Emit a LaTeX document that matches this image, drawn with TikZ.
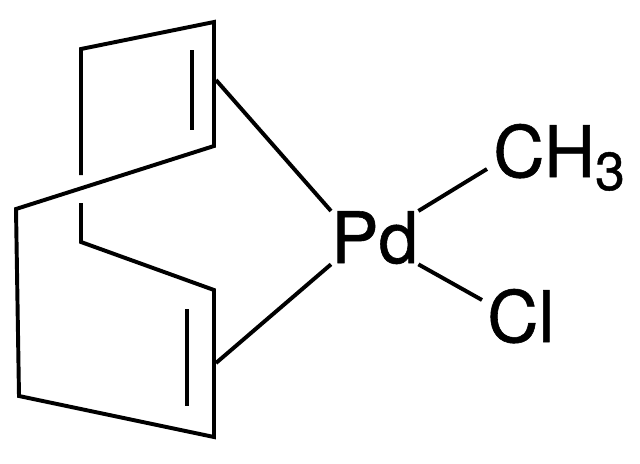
\documentclass[tikz,border=0pt]{standalone}
\usepackage{fontspec}
\setmainfont{TeX Gyre Heros}[RawFeature={embolden=0.8}]
\tikzset{
bond/.style={black, line width=2.8pt},
atom/.style={inner sep=0pt, anchor=base west, font=\fontsize{50.5}{51}\selectfont}
}
\newcommand{\subthree}{\raisebox{-.325cm}{\fontsize{38}{38}\selectfont 3}}
\begin{document}
\begin{tikzpicture}[x=.025cm,y=-.025cm]
\useasboundingbox (0,0) rectangle (640,463);
\coordinate (A) at (81,49);
\coordinate (B) at (214,22);
\coordinate (C) at (214,146);
\coordinate (D) at (16,209);
\coordinate (E) at (19,396);
\coordinate (F) at (214,437);
\coordinate (G) at (214,290);
\coordinate (H) at (81,242);
\coordinate (Gap1) at (81,175);
\coordinate (Gap2) at (81,203);
\coordinate (U1) at (192,50);
\coordinate (U2) at (192,130);
\coordinate (L1) at (187,309);
\coordinate (L2) at (187,406);
\coordinate (CU) at (216,80);
\coordinate (CL) at (216,363);
\coordinate (MeEnd) at (487,169);
\coordinate (ClEnd) at (482,300);
\node[atom] (Pd) at (331,263) {Pd};
\node[atom] (Me) at (493,177) {CH\subthree};
\node[atom] (Cl) at (487,342) {Cl};
\draw[bond](Gap1)--(A)--(B)--(C)--(D)--(E)--(F)--(G)--(H)--(Gap2);
\draw[bond](U1)--(U2);
\draw[bond](L1)--(L2);
\draw[bond](CU)--(Pd.north west);
\draw[bond](CL)--(Pd.south west);
\draw[bond](Pd.north east)--(MeEnd);
\draw[bond](Pd.south east)--(ClEnd);
\end{tikzpicture}
\end{document}
